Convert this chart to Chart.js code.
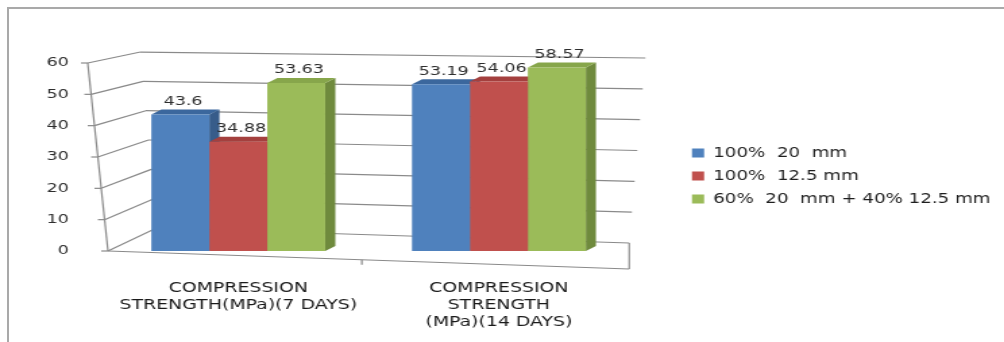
<!DOCTYPE html>
<html>
<head>
<meta charset="utf-8">
<title>Compression strength</title>
<script src="https://cdn.jsdelivr.net/npm/chart.js@4.4.0/dist/chart.umd.min.js"></script>
<style>
    html, body { margin: 0; padding: 0; background: #fff; }
    body { width: 1004px; height: 342px; overflow: hidden; position: relative; }
    .frame {
        position: absolute; left: 7px; top: 7px; right: -6px; bottom: -6px;
        border-left: 2px solid #a9a9a9; border-top: 2px solid #a9a9a9;
    }
    /* the chart is laid out narrow and stretched sideways, like the old Excel export */
    .stretch {
        position: absolute; left: 0; top: 0; width: 744px; height: 342px;
        transform: scaleX(1.3495); transform-origin: 0 0;
    }
</style>
</head>
<body>
<div class="frame"></div>
<div class="stretch"><canvas id="strength-chart" width="744" height="342"></canvas></div>
<script>
// Categories and series
const categories = [
    ['COMPRESSION', 'STRENGTH(MPa)(7 DAYS)'],
    ['COMPRESSION', 'STRENGTH', '(MPa)(14 DAYS)']
];
const seriesNames = ['100%  20  mm', '100%  12.5 mm', '60%  20  mm + 40% 12.5 mm'];
const agg20mm = [43.6, 53.19];
const agg12mm = [34.88, 54.06];
const aggMix = [53.63, 58.57];
const yMin = 0;
const yMax = 60;
const yStep = 10;

// Face colours: front, right side, top
const frontColors = ['#4f81bd', '#c0504d', '#9bbb59'];
const sideColors = ['#375c8a', '#8c3735', '#6f8a3d'];
const topColors = ['#3b679d', '#a4403e', '#87a64b'];

const FONT = 'DejaVu Sans';
const DEPTH_X = 7.5;
const DEPTH_Y = -5;

function strokeLine(ctx, x1, y1, x2, y2) {
    ctx.beginPath();
    ctx.moveTo(x1, y1);
    ctx.lineTo(x2, y2);
    ctx.stroke();
}

function fillPoly(ctx, pts, color) {
    ctx.beginPath();
    ctx.moveTo(pts[0][0], pts[0][1]);
    for (let i = 1; i < pts.length; i++) ctx.lineTo(pts[i][0], pts[i][1]);
    ctx.closePath();
    ctx.fillStyle = color;
    ctx.fill();
}

/**
 * Side wall, back wall and floor in a fake perspective,
 * plus the top and side faces of the bars
 */
const wallsPlugin = {
    id: 'walls',
    beforeDatasetsDraw(chart) {
        const ctx = chart.ctx;
        const {left, right, top, bottom} = chart.chartArea;
        const yScale = chart.scales.y;
        const span = bottom - top;

        ctx.save();
        ctx.strokeStyle = '#8a8a8a';
        ctx.lineWidth = 1.2;

        yScale.ticks.forEach(tick => {
            const yf = yScale.getPixelForValue(tick.value);
            const t = (bottom - yf) / span;
            const fx = left - 15 * t;
            const blx = left + 36 - 12 * t;
            const bly = bottom - 23 - (bottom - yf) * 0.936;
            const brx = right + 12 * t;
            const bry = bottom - 8 - (bottom - yf) * 0.984;

            strokeLine(ctx, fx - 5, yf, fx, yf);
            strokeLine(ctx, fx, yf, blx, bly);
            strokeLine(ctx, blx, bly, brx, bry);
        });

        // front value axis, leaning a little
        strokeLine(ctx, left, bottom, left - 15, top);

        // floor: front edge, right edge, category tick
        const drop = 18;
        strokeLine(ctx, left, bottom, right, bottom + drop);
        strokeLine(ctx, right, bottom - 8, right, bottom + drop);
        const mid = (left + right) / 2 - 5;
        const midY = bottom + drop * (mid - left) / (right - left);
        strokeLine(ctx, mid, midY, mid, midY + 5);

        // depth faces, left series first so later fronts cover them
        chart.data.datasets.forEach((ds, i) => {
            chart.getDatasetMeta(i).data.forEach(bar => {
                const l = bar.x - bar.width / 2;
                const r = bar.x + bar.width / 2;
                fillPoly(ctx, [[r, bar.y], [r + DEPTH_X, bar.y + DEPTH_Y], [r + DEPTH_X, bar.base + DEPTH_Y], [r, bar.base]], sideColors[i]);
                fillPoly(ctx, [[l, bar.y], [l + DEPTH_X, bar.y + DEPTH_Y], [r + DEPTH_X, bar.y + DEPTH_Y], [r, bar.y]], topColors[i]);
            });
        });
        ctx.restore();
    },

    // value labels above the bars
    afterDatasetsDraw(chart) {
        const ctx = chart.ctx;
        ctx.save();
        ctx.font = `13px "${FONT}"`;
        ctx.fillStyle = '#2e2e2e';
        ctx.textAlign = 'center';
        ctx.textBaseline = 'middle';
        chart.data.datasets.forEach((ds, i) => {
            chart.getDatasetMeta(i).data.forEach((bar, j) => {
                ctx.fillText(String(ds.data[j]), bar.x + 2, bar.y - 13);
            });
        });
        ctx.restore();
    }
};

const ctx = document.getElementById('strength-chart').getContext('2d');

const strengthChart = new Chart(ctx, {
    type: 'bar',
    data: {
        labels: categories,
        datasets: [
            { label: seriesNames[0], data: agg20mm, backgroundColor: frontColors[0] },
            { label: seriesNames[1], data: agg12mm, backgroundColor: frontColors[1] },
            { label: seriesNames[2], data: aggMix, backgroundColor: frontColors[2] }
        ]
    },
    options: {
        responsive: false,
        animation: false,
        devicePixelRatio: 1,
        categoryPercentage: 0.667,
        barPercentage: 1.0,
        borderWidth: 0,
        layout: {
            padding: { top: 10, right: 0, bottom: 0, left: 0 }
        },
        plugins: {
            tooltip: { enabled: false },
            legend: {
                position: 'right',
                maxWidth: 300,
                labels: {
                    boxWidth: 9,
                    boxHeight: 9,
                    padding: 9.5,
                    color: '#1e1e1e',
                    font: { family: FONT, size: 13.5 }
                }
            }
        },
        scales: {
            x: {
                grid: { display: false },
                border: { display: false },
                ticks: {
                    autoSkip: false,
                    maxRotation: 0,
                    minRotation: 0,
                    padding: 21,
                    color: '#1a1a1a',
                    font: { family: FONT, size: 14 }
                },
                afterFit: scale => { scale.height = 91; }
            },
            y: {
                min: yMin,
                max: yMax,
                grid: { display: false },
                border: { display: false },
                ticks: {
                    stepSize: yStep,
                    padding: 21,
                    color: '#2e2e2e',
                    font: { family: FONT, size: 13 }
                },
                afterFit: scale => { scale.width = 80; }
            },
            // empty band above the walls
            gapTop: {
                type: 'linear',
                position: 'top',
                grid: { display: false },
                border: { display: false },
                ticks: { display: false },
                afterFit: scale => { scale.height = 53; }
            },
            // empty strip between the walls and the legend
            gap: {
                type: 'linear',
                position: 'right',
                grid: { display: false },
                border: { display: false },
                ticks: { display: false },
                afterFit: scale => { scale.width = 37; }
            }
        }
    },
    plugins: [wallsPlugin]
});
</script>
</body>
</html>
